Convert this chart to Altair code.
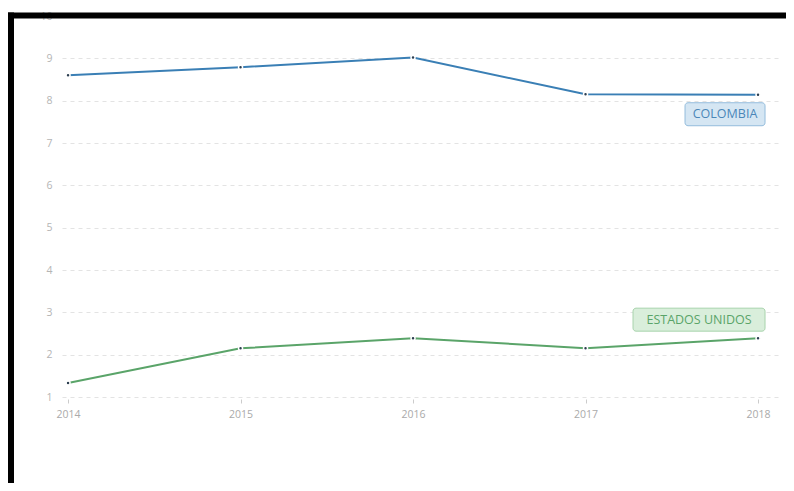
import altair as alt
import pandas as pd

years = [2014, 2015, 2016, 2017, 2018]
colombia = [8.60, 8.79, 9.02, 8.15, 8.14]
estados_unidos = [1.33, 2.15, 2.39, 2.15, 2.39]
series_names = ["COLOMBIA", "ESTADOS UNIDOS"]
series_colors = ["#3a7fb5", "#5aa469"]
y_ticks = [1, 2, 3, 4, 5, 6, 7, 8, 9, 10]

df = pd.DataFrame({
    "year": years * 2,
    "value": colombia + estados_unidos,
    "country": [series_names[0]] * len(years) + [series_names[1]] * len(years),
})

W, H = 720, 381

xscale = alt.Scale(domain=[2013.965, 2018.139], nice=False, zero=False)
yscale = alt.Scale(domain=[1, 10], nice=False, zero=False)
color = alt.Color("country:N", scale=alt.Scale(domain=series_names, range=series_colors), legend=None)

x_axis = alt.Axis(values=years, format="d", title=None, grid=False, domain=False,
                  ticks=True, tickSize=4, tickColor="#cccccc", tickWidth=1,
                  labelColor="#aaaaaa", labelFontSize=10.5, labelFont="Open Sans", labelPadding=6,
                  offset=2)
y_axis = alt.Axis(values=y_ticks, title=None, domain=False, ticks=False,
                  grid=True, gridColor="#e3e3e3", gridDash=[4, 4], gridWidth=1,
                  labelColor="#b5b5b5", labelFontSize=10.5, labelFont="Open Sans", labelPadding=10)

base = alt.Chart(df)

lines = base.mark_line(strokeWidth=2).encode(
    x=alt.X("year:Q", scale=xscale, axis=x_axis),
    y=alt.Y("value:Q", scale=yscale, axis=y_axis),
    color=color,
)
points = base.mark_point(filled=True, size=16, color="#2c3e50", stroke="white",
                         strokeWidth=1.5, opacity=1).encode(
    x=alt.X("year:Q", scale=xscale),
    y=alt.Y("value:Q", scale=yscale),
)

lab = pd.DataFrame({"year": [2018], "value": [colombia[-1]], "country": [series_names[0]]})
lab2 = pd.DataFrame({"year": [2018], "value": [estados_unidos[-1]], "country": [series_names[1]]})

box1 = alt.Chart(lab).mark_rect(width=80, height=23, fill="#d5e6f3", stroke="#93bcdc",
                                strokeWidth=1, cornerRadius=3, xOffset=-33, yOffset=19.5).encode(
    x=alt.X("year:Q", scale=xscale), y=alt.Y("value:Q", scale=yscale))
text1 = alt.Chart(lab).mark_text(font="Open Sans", fontSize=12.5, color="#4a86b8",
                                 xOffset=-33, yOffset=19.5, align="center", baseline="middle").encode(
    x=alt.X("year:Q", scale=xscale), y=alt.Y("value:Q", scale=yscale), text="country:N")

box2 = alt.Chart(lab2).mark_rect(width=132, height=23, fill="#d9eedb", stroke="#a8d3ac",
                                 strokeWidth=1, cornerRadius=3, xOffset=-59, yOffset=-18.5).encode(
    x=alt.X("year:Q", scale=xscale), y=alt.Y("value:Q", scale=yscale))
text2 = alt.Chart(lab2).mark_text(font="Open Sans", fontSize=12.5, color="#5aa469",
                                  xOffset=-59, yOffset=-18.5, align="center", baseline="middle").encode(
    x=alt.X("year:Q", scale=xscale), y=alt.Y("value:Q", scale=yscale), text="country:N")

# decorative black frame (top and left) of the screenshot
frame_top = alt.Chart(lab).mark_rule(color="black", strokeWidth=6).encode(
    x=alt.value(-55), x2=alt.value(W + 4), y=alt.value(-0.5))
frame_left = alt.Chart(lab).mark_rule(color="black", strokeWidth=7).encode(
    x=alt.value(-51.5), y=alt.value(-3.5), y2=alt.value(H + 86))

chart = alt.layer(lines, points, box1, text1, box2, text2, frame_top, frame_left).properties(
    width=W, height=H,
    autosize=alt.AutoSizeParams(type="none"),
    padding={"left": 54, "top": 8, "right": 4, "bottom": 86},
).configure(background="white").configure_view(stroke="transparent", strokeOpacity=0, strokeWidth=0)

chart.save("out.html", embed_options={"renderer": "svg", "actions": False})
